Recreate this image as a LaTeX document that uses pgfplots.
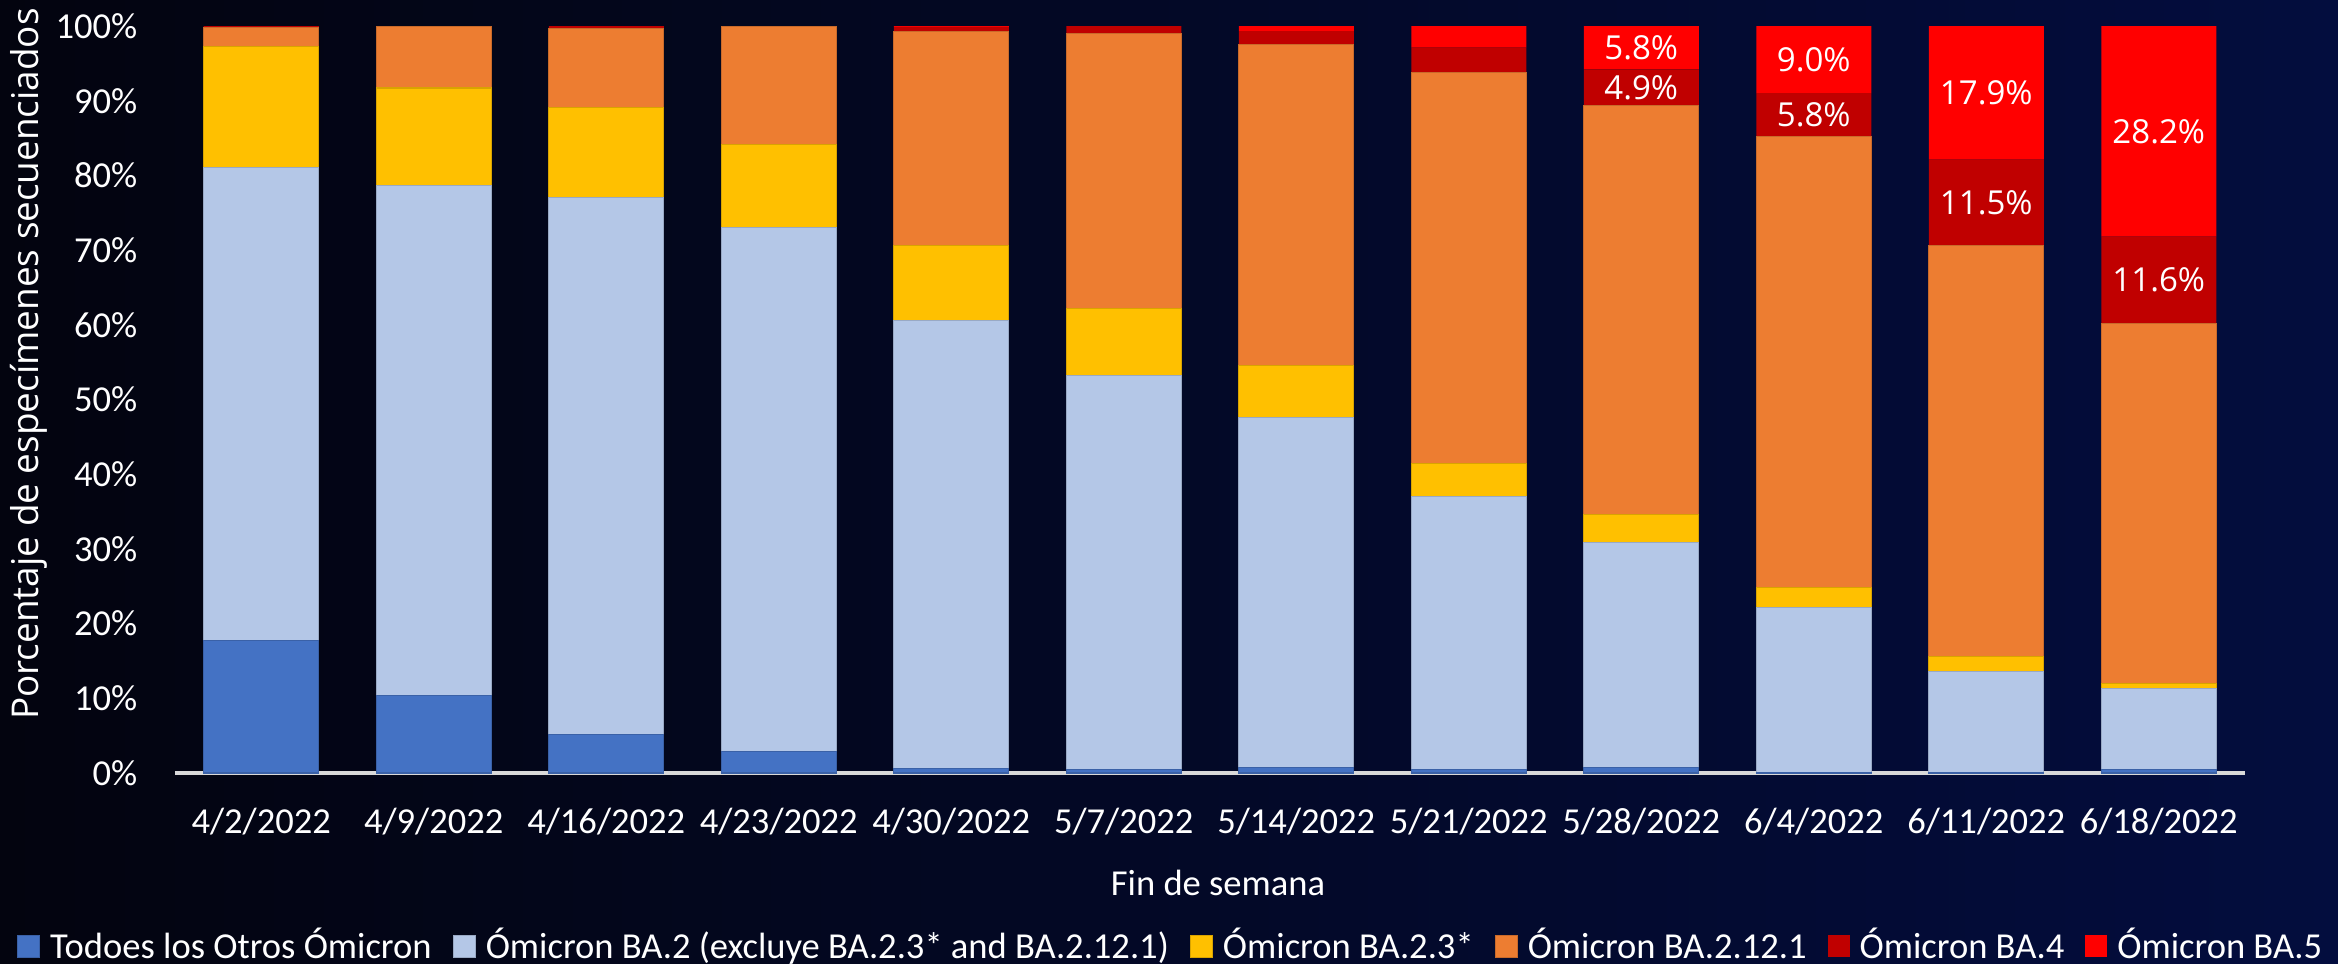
\documentclass[border=0pt]{standalone}
\usepackage{fontspec}
\setmainfont{Carlito}
\newfontfamily\lblfont{Open Sans}
\usepackage{pgfplots}
\pgfplotsset{compat=1.18}
\definecolor{cOther}{HTML}{4472C4}
\definecolor{cBAtwo}{HTML}{B4C7E7}
\definecolor{cBAtt}{HTML}{FFC000}
\definecolor{cBAtwelve}{HTML}{ED7D31}
\definecolor{cBAfour}{HTML}{C00000}
\definecolor{cBAfive}{HTML}{FF0000}
\definecolor{bgL}{HTML}{03040F}
\definecolor{bgM}{HTML}{010A2E}
\definecolor{bgR}{HTML}{030D3E}
\definecolor{axisgray}{HTML}{D9D9D9}
\newcommand\calfont{\fontsize{10.4}{12}\selectfont}
\begin{document}
\begin{tikzpicture}
\useasboundingbox (0,0) rectangle (233.8mm,96.3mm);
\shade[left color=bgL, middle color=bgM, right color=bgR] (0,0) rectangle (233.8mm,96.3mm);
\begin{axis}[
  at={(17.5mm,19.0mm)}, anchor=south west,
  scale only axis, width=207mm, height=74.7mm,
  ybar stacked, bar width=11.5mm,
  xmin=-0.5, xmax=11.5, ymin=0, ymax=100,
  xtick={0,1,2,3,4,5,6,7,8,9,10,11},
  xticklabels={4/2/2022,4/9/2022,4/16/2022,4/23/2022,4/30/2022,5/7/2022,5/14/2022,5/21/2022,5/28/2022,6/4/2022,6/11/2022,6/18/2022},
  ytick={0,10,20,30,40,50,60,70,80,90,100},
  yticklabels={0\%,10\%,20\%,30\%,40\%,50\%,60\%,70\%,80\%,90\%,100\%},
  axis x line*=bottom, axis y line*=left,
  y axis line style={draw=none},
  x axis line style={draw=axisgray, line width=0.9pt},
  tick style={draw=none},
  major tick length=0pt,
  ticklabel style={font=\calfont, text=white, inner sep=0pt},
  xticklabel style={anchor=base, yshift=-6mm},
  yticklabel style={anchor=east, xshift=-3.7mm},
  xlabel={Fin de semana},
  xlabel style={at={(axis description cs:0.5,0)}, anchor=base, yshift=-12.2mm, xshift=0.8mm, font=\calfont, text=white, inner sep=0pt},
  legend columns=6,
  legend image code/.code={\fill[#1] (0mm,-1.1mm) rectangle (2.2mm,1.1mm);},
  legend style={at={(axis description cs:-0.0763,-0.2557)}, anchor=south west,
    draw=none, fill=none, inner sep=0pt, outer sep=0pt,
    font=\calfont, text=white, nodes={inner sep=0pt},
    /tikz/every odd column/.append style={column sep=1.0mm},
    /tikz/every even column/.append style={column sep=2.1mm}},
]
\addplot[fill=cOther, draw=cOther!85!black, line width=0.3pt] coordinates {(0,17.8)(1,10.4)(2,5.1)(3,2.9)(4,0.6)(5,0.5)(6,0.7)(7,0.5)(8,0.8)(9,0.1)(10,0.1)(11,0.5)};
\addlegendentry{Todoes los Otros Ómicron}
\addplot[fill=cBAtwo, draw=cBAtwo!85!black, line width=0.3pt] coordinates {(0,63.3)(1,68.2)(2,72.0)(3,70.1)(4,60.0)(5,52.7)(6,46.9)(7,36.5)(8,30.0)(9,22.0)(10,13.5)(11,10.8)};
\addlegendentry{Ómicron BA.2 (excluye BA.2.3* and BA.2.12.1)}
\addplot[fill=cBAtt, draw=cBAtt!85!black, line width=0.3pt] coordinates {(0,16.1)(1,13.1)(2,12.0)(3,11.1)(4,10.0)(5,9.0)(6,7.0)(7,4.4)(8,3.8)(9,2.7)(10,2.0)(11,0.65)};
\addlegendentry{Ómicron BA.2.3*}
\addplot[fill=cBAtwelve, draw=cBAtwelve!85!black, line width=0.3pt] coordinates {(0,2.55)(1,8.3)(2,10.55)(3,15.9)(4,28.7)(5,36.8)(6,42.9)(7,52.4)(8,54.7)(9,60.4)(10,55.0)(11,48.25)};
\addlegendentry{Ómicron BA.2.12.1}
\addplot[fill=cBAfour, draw=none] coordinates {(0,0.25)(1,0)(2,0.35)(3,0)(4,0.6)(5,1.0)(6,1.8)(7,3.3)(8,4.9)(9,5.8)(10,11.5)(11,11.6)};
\addlegendentry{Ómicron BA.4}
\addplot[fill=cBAfive, draw=none] coordinates {(0,0)(1,0)(2,0)(3,0)(4,0.1)(5,0)(6,0.7)(7,2.9)(8,5.8)(9,9.0)(10,17.9)(11,28.2)};
\addlegendentry{Ómicron BA.5}
\end{axis}
\begin{axis}[
  at={(17.5mm,19.0mm)}, anchor=south west,
  scale only axis, width=207mm, height=74.7mm,
  xmin=-0.5, xmax=11.5, ymin=0, ymax=100, hide axis,
]
\addplot[draw=none, mark=none, nodes near coords, point meta=explicit symbolic,
  every node near coord/.style={anchor=center, font=\lblfont\fontsize{9.4}{11}\selectfont, text=white, inner sep=0pt}]
  coordinates {(8,97.1)[5.8\%] (8,91.75)[4.9\%] (9,95.5)[9.0\%] (9,88.1)[5.8\%] (10,91.05)[17.9\%] (10,76.35)[11.5\%] (11,85.9)[28.2\%] (11,66.0)[11.6\%]};
\end{axis}
\node[rotate=90, anchor=base, text=white, font=\lblfont\fontsize{10.5}{12}\selectfont, inner sep=0pt] at (3.9mm,59.9mm) {Porcentaje de especímenes secuenciados};
\end{tikzpicture}
\end{document}
